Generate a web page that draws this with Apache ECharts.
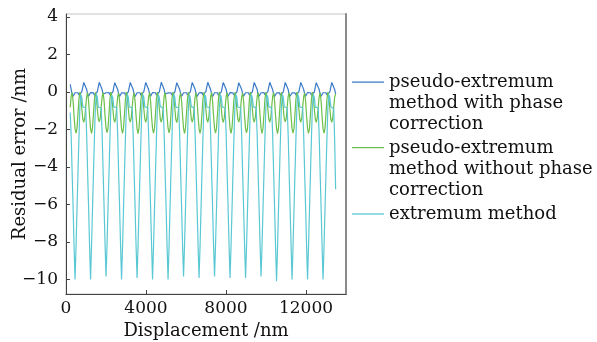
<!DOCTYPE html>
<html>
<head>
<meta charset="utf-8">
<script src="https://cdn.jsdelivr.net/npm/echarts@6/dist/echarts.min.js"></script>
<style>
html,body{margin:0;padding:0;background:#fff;}
#chart{width:597px;height:342px;}
</style>
</head>
<body>
<div id="chart"></div>
<script>
// Sampling grid of the recorded displacement (nm)
const xStart = 210;
const xStep = 48.4375;

const seriesNames = [
  'pseudo-extremum\nmethod with phase\ncorrection',
  'pseudo-extremum\nmethod without phase\ncorrection',
  'extremum method'
];

const xTicks = [0, 4000, 8000, 12000];
const yTicks = [-10, -8, -6, -4, -2, 0, 2, 4];

// pseudo-extremum method with phase correction (nm)
const withPhase = [
  0.40, 0.12, -0.12, -0.23, -0.18,
  -0.05, 0.02, 0.03, -0.05, -0.17, -0.25, -0.20, 0.00, 0.25, 0.50, 0.58, 0.42, 0.12, -0.12, -0.24, -0.18,
  -0.04, 0.03, 0.02, -0.06, -0.18, -0.24, -0.19, 0.01, 0.26, 0.51, 0.59, 0.41, 0.11, -0.13, -0.23, -0.17,
  -0.05, 0.01, 0.03, -0.04, -0.16, -0.25, -0.21, -0.01, 0.24, 0.49, 0.57, 0.43, 0.13, -0.11, -0.24, -0.19,
  -0.06, 0.02, 0.04, -0.05, -0.17, -0.26, -0.20, 0.00, 0.25, 0.50, 0.60, 0.42, 0.12, -0.12, -0.25, -0.18,
  -0.05, 0.02, 0.03, -0.05, -0.18, -0.25, -0.19, 0.01, 0.26, 0.50, 0.58, 0.41, 0.11, -0.12, -0.24, -0.18,
  -0.04, 0.03, 0.02, -0.05, -0.17, -0.24, -0.20, 0.00, 0.25, 0.51, 0.59, 0.42, 0.12, -0.13, -0.23, -0.17,
  -0.05, 0.02, 0.03, -0.06, -0.17, -0.25, -0.21, -0.01, 0.24, 0.49, 0.58, 0.43, 0.13, -0.11, -0.24, -0.18,
  -0.05, 0.01, 0.03, -0.05, -0.16, -0.25, -0.20, 0.00, 0.25, 0.50, 0.59, 0.42, 0.12, -0.12, -0.24, -0.19,
  -0.06, 0.02, 0.04, -0.04, -0.17, -0.26, -0.20, 0.01, 0.26, 0.51, 0.60, 0.41, 0.11, -0.12, -0.25, -0.18,
  -0.05, 0.03, 0.03, -0.05, -0.18, -0.25, -0.19, 0.00, 0.25, 0.50, 0.58, 0.42, 0.12, -0.13, -0.24, -0.17,
  -0.04, 0.02, 0.02, -0.06, -0.17, -0.24, -0.20, -0.01, 0.24, 0.49, 0.57, 0.43, 0.13, -0.11, -0.23, -0.18,
  -0.05, 0.02, 0.03, -0.05, -0.17, -0.25, -0.21, 0.00, 0.25, 0.50, 0.59, 0.42, 0.12, -0.12, -0.24, -0.18,
  -0.05, 0.01, 0.04, -0.04, -0.16, -0.25, -0.20, 0.01, 0.26, 0.51, 0.58, 0.41, 0.11, -0.12, -0.25, -0.19,
  -0.06, 0.02, 0.03, -0.05, -0.18, -0.26, -0.19, 0.00, 0.25, 0.50, 0.59, 0.42, 0.12, -0.13, -0.24, -0.18,
  -0.05, 0.03, 0.02, -0.06, -0.17, -0.25, -0.20, 0.00, 0.24, 0.50, 0.58, 0.43, 0.13, -0.11, -0.24, -0.17,
  -0.04, 0.02, 0.03, -0.05, -0.17, -0.24, -0.21, -0.01, 0.25, 0.49, 0.59, 0.42, 0.12, -0.12, -0.23, -0.18,
  -0.05, 0.02, 0.03, -0.05, -0.17, -0.25, -0.20, 0.00, 0.25, 0.50, 0.58, 0.42, 0.12, -0.12
];

// pseudo-extremum method without phase correction (nm)
const withoutPhase = [
  -0.82, -0.25, -0.05, -0.50, -1.30,
  -1.95, -2.20, -1.95, -1.20, -0.40, -0.02, -0.30, -0.90, -1.45, -1.62, -1.40, -0.80, -0.25, -0.05, -0.50, -1.30,
  -1.96, -2.22, -1.94, -1.18, -0.41, -0.03, -0.31, -0.92, -1.44, -1.60, -1.41, -0.79, -0.24, -0.04, -0.51, -1.31,
  -1.94, -2.18, -1.96, -1.21, -0.39, -0.01, -0.29, -0.89, -1.46, -1.63, -1.39, -0.81, -0.26, -0.06, -0.49, -1.29,
  -1.95, -2.21, -1.95, -1.20, -0.40, -0.02, -0.30, -0.91, -1.45, -1.61, -1.40, -0.80, -0.25, -0.05, -0.50, -1.30,
  -1.97, -2.23, -1.93, -1.19, -0.42, -0.03, -0.31, -0.90, -1.44, -1.62, -1.42, -0.78, -0.24, -0.04, -0.51, -1.32,
  -1.95, -2.20, -1.95, -1.20, -0.40, -0.02, -0.30, -0.90, -1.45, -1.62, -1.40, -0.80, -0.25, -0.05, -0.50, -1.30,
  -1.94, -2.19, -1.96, -1.22, -0.39, -0.01, -0.29, -0.88, -1.46, -1.64, -1.39, -0.81, -0.26, -0.06, -0.49, -1.28,
  -1.96, -2.21, -1.94, -1.19, -0.41, -0.02, -0.31, -0.91, -1.44, -1.61, -1.41, -0.79, -0.25, -0.05, -0.50, -1.31,
  -1.95, -2.22, -1.95, -1.20, -0.40, -0.03, -0.30, -0.90, -1.45, -1.62, -1.40, -0.80, -0.24, -0.04, -0.51, -1.30,
  -1.95, -2.20, -1.95, -1.21, -0.40, -0.02, -0.30, -0.89, -1.45, -1.63, -1.40, -0.80, -0.25, -0.05, -0.50, -1.29,
  -1.96, -2.22, -1.94, -1.19, -0.41, -0.02, -0.31, -0.91, -1.44, -1.61, -1.41, -0.79, -0.26, -0.06, -0.49, -1.31,
  -1.94, -2.19, -1.96, -1.20, -0.39, -0.01, -0.29, -0.90, -1.46, -1.62, -1.39, -0.81, -0.25, -0.05, -0.50, -1.30,
  -1.95, -2.21, -1.95, -1.21, -0.40, -0.02, -0.30, -0.90, -1.45, -1.62, -1.40, -0.80, -0.24, -0.04, -0.51, -1.30,
  -1.96, -2.23, -1.94, -1.19, -0.41, -0.03, -0.31, -0.91, -1.44, -1.60, -1.41, -0.79, -0.25, -0.05, -0.50, -1.31,
  -1.95, -2.20, -1.95, -1.20, -0.40, -0.02, -0.30, -0.90, -1.45, -1.62, -1.40, -0.80, -0.26, -0.06, -0.49, -1.29,
  -1.95, -2.21, -1.95, -1.20, -0.40, -0.02, -0.30, -0.90, -1.45, -1.63, -1.40, -0.80, -0.25, -0.05, -0.50, -1.30,
  -1.95, -2.20, -1.95, -1.20, -0.40, -0.02, -0.30, -0.90, -1.45, -1.62, -1.40, -0.80, -0.30, -0.10
];

// extremum method (nm)
const extremum = [
  -1.10, -2.35, -4.30, -6.20, -8.25,
  -10.00, -8.30, -6.30, -4.40, -2.50, -0.80, -0.15, -0.30, -0.80, -0.85, -0.83, -0.85, -2.30, -4.30, -6.20, -8.20,
  -10.00, -8.25, -6.30, -4.35, -2.45, -0.78, -0.12, -0.28, -0.82, -0.84, -0.84, -0.86, -2.32, -4.28, -6.22, -8.15,
  -9.85, -8.20, -6.25, -4.40, -2.50, -0.82, -0.18, -0.32, -0.80, -0.85, -0.82, -0.85, -2.28, -4.32, -6.18, -8.20,
  -10.00, -8.32, -6.28, -4.38, -2.48, -0.80, -0.14, -0.30, -0.81, -0.86, -0.83, -0.84, -2.30, -4.30, -6.20, -8.22,
  -9.92, -8.28, -6.32, -4.42, -2.52, -0.79, -0.16, -0.29, -0.80, -0.84, -0.85, -0.85, -2.31, -4.29, -6.21, -8.18,
  -10.00, -8.30, -6.30, -4.40, -2.50, -0.81, -0.15, -0.31, -0.79, -0.85, -0.83, -0.86, -2.29, -4.31, -6.19, -8.21,
  -10.00, -8.27, -6.29, -4.37, -2.47, -0.80, -0.13, -0.30, -0.82, -0.85, -0.84, -0.85, -2.30, -4.30, -6.20, -8.20,
  -9.85, -8.22, -6.26, -4.41, -2.51, -0.83, -0.17, -0.31, -0.80, -0.84, -0.83, -0.84, -2.32, -4.28, -6.22, -8.17,
  -9.92, -8.31, -6.31, -4.39, -2.49, -0.80, -0.15, -0.29, -0.81, -0.86, -0.82, -0.85, -2.30, -4.30, -6.20, -8.20,
  -9.85, -8.21, -6.27, -4.40, -2.50, -0.81, -0.16, -0.30, -0.80, -0.85, -0.84, -0.86, -2.29, -4.31, -6.18, -8.21,
  -9.92, -8.29, -6.30, -4.38, -2.48, -0.79, -0.14, -0.30, -0.81, -0.84, -0.83, -0.85, -2.31, -4.29, -6.21, -8.19,
  -9.92, -8.28, -6.31, -4.41, -2.51, -0.80, -0.15, -0.31, -0.80, -0.85, -0.85, -0.84, -2.30, -4.30, -6.20, -8.20,
  -9.85, -8.20, -6.27, -4.39, -2.49, -0.82, -0.16, -0.29, -0.79, -0.85, -0.83, -0.86, -2.33, -4.32, -6.25, -8.28,
  -10.10, -8.35, -6.33, -4.42, -2.52, -0.80, -0.15, -0.30, -0.81, -0.84, -0.84, -0.85, -2.30, -4.30, -6.20, -8.20,
  -10.00, -8.30, -6.30, -4.40, -2.50, -0.81, -0.14, -0.31, -0.80, -0.85, -0.83, -0.85, -2.29, -4.29, -6.19, -8.21,
  -10.00, -8.29, -6.29, -4.39, -2.49, -0.80, -0.15, -0.30, -0.82, -0.86, -0.84, -0.85, -2.31, -4.30, -6.21, -8.22,
  -10.00, -8.30, -6.30, -4.40, -2.50, -0.80, -0.15, -0.30, -0.80, -0.85, -0.83, -0.90, -2.60, -5.20
];

const colors = ['#3a7bc8', '#6cbf4a', '#5ac8d4'];
const FONT = '"DejaVu Serif", "Liberation Serif", serif';

function toPairs(arr) {
  return arr.map((v, i) => [xStart + i * xStep, v]);
}
const minusFmt = v => String(v).replace('-', '\u2212');
const plainFmt = v => String(v);

// legend key: short line drawn at the top of a tall icon box, so it sits beside the first text line
const topLineIcon = 'path://M0,0H32V1.3H0Z M0,42L0,42.01';

const chart = echarts.init(document.getElementById('chart'), null, {renderer: 'canvas'});

const legendText = {fontFamily: FONT, fontSize: 18, lineHeight: 21, color: '#111'};

chart.setOption({
  animation: false,
  backgroundColor: '#ffffff',
  color: colors,
  grid: {
    left: 66, right: 251, top: 14, bottom: 48,
    outerBoundsMode: 'none', containLabel: false,
    show: true, borderColor: '#c4c4c4', borderWidth: 1, backgroundColor: 'transparent'
  },
  legend: [
    {
      orient: 'vertical', left: 352, top: 72, padding: 0, itemGap: 0,
      itemWidth: 32, itemHeight: 44, icon: topLineIcon, symbolKeepAspect: false,
      selectedMode: false, itemStyle: {borderWidth: 0},
      data: [seriesNames[0]], textStyle: legendText
    },
    {
      orient: 'vertical', left: 352, top: 137.5, padding: 0, itemGap: 0,
      itemWidth: 32, itemHeight: 44, icon: topLineIcon, symbolKeepAspect: false,
      selectedMode: false, itemStyle: {borderWidth: 0},
      data: [seriesNames[1]], textStyle: legendText
    },
    {
      orient: 'vertical', left: 352, top: 203.5, padding: 0, itemGap: 0,
      itemWidth: 32, itemHeight: 1.3, icon: 'rect', symbolKeepAspect: false,
      selectedMode: false, itemStyle: {borderWidth: 0},
      data: [seriesNames[2]], textStyle: legendText
    }
  ],
  xAxis: [{
    type: 'value', min: 0, max: 14000,
    name: 'Displacement /nm', nameLocation: 'middle', nameGap: 28, nameMoveOverlap: false,
    nameTextStyle: {fontFamily: FONT, fontSize: 18, color: '#111'},
    axisLine: {show: true, onZero: false, lineStyle: {color: '#444', width: 1.2}},
    axisTick: {show: true, inside: true, length: 4, customValues: xTicks, lineStyle: {color: '#444'}},
    axisLabel: {show: true, customValues: xTicks, margin: 6, fontFamily: FONT, fontSize: 17, color: '#111', formatter: plainFmt},
    splitLine: {show: false}
  }],
  yAxis: [{
    type: 'value', min: -10.78, max: 4.15,
    name: 'Residual error /nm', nameLocation: 'middle', nameGap: 37, nameRotate: 90, nameMoveOverlap: false,
    nameTextStyle: {fontFamily: FONT, fontSize: 18, color: '#111'},
    axisLine: {show: true, onZero: false, lineStyle: {color: '#444', width: 1}},
    axisTick: {show: true, inside: true, length: 4, customValues: yTicks, lineStyle: {color: '#444'}},
    axisLabel: {show: true, customValues: yTicks, margin: 8, fontFamily: FONT, fontSize: 17, color: '#111', formatter: minusFmt},
    splitLine: {show: false}
  }, {
    type: 'value', position: 'right', min: -10.78, max: 4.15,
    axisLine: {show: true, onZero: false, lineStyle: {color: '#8a8a8a', width: 2}},
    axisTick: {show: false}, axisLabel: {show: false}, splitLine: {show: false}
  }],
  series: [
    {name: seriesNames[0], type: 'line', data: toPairs(withPhase), symbol: 'none', lineStyle: {width: 1.2, color: colors[0]}, itemStyle: {color: colors[0]}, z: 2},
    {name: seriesNames[1], type: 'line', data: toPairs(withoutPhase), symbol: 'none', lineStyle: {width: 1.2, color: colors[1]}, itemStyle: {color: colors[1]}, z: 3},
    {name: seriesNames[2], type: 'line', data: toPairs(extremum), symbol: 'none', lineStyle: {width: 1.2, color: colors[2]}, itemStyle: {color: colors[2]}, z: 4}
  ]
});
</script>
</body>
</html>
